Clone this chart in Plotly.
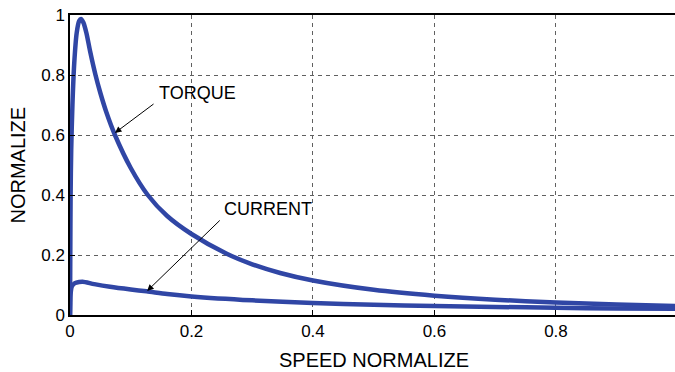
import plotly.graph_objects as go

# Data
torque_x = [0, 0.0005, 0.001, 0.002, 0.004, 0.007, 0.011, 0.015, 0.018, 0.022, 0.027,
            0.033, 0.042, 0.05, 0.06, 0.074, 0.1, 0.128, 0.16, 0.2, 0.258, 0.3, 0.346,
            0.4, 0.5, 0.6, 0.7, 0.8, 0.9, 0.996]
torque_y = [0, 0.2, 0.4, 0.55, 0.7, 0.84, 0.94, 0.98, 0.987, 0.975, 0.94,
            0.88, 0.8, 0.74, 0.675, 0.6, 0.49, 0.4, 0.33, 0.27, 0.204, 0.169, 0.14,
            0.115, 0.084, 0.0645, 0.051, 0.042, 0.035, 0.030]

current_x = [0, 0.0005, 0.001, 0.003, 0.008, 0.015, 0.021, 0.04, 0.066, 0.1, 0.126,
             0.16, 0.2, 0.3, 0.4, 0.5, 0.6, 0.7, 0.8, 0.9, 0.996]
current_y = [0, 0.04, 0.07, 0.095, 0.106, 0.11, 0.111, 0.103, 0.094, 0.085, 0.079,
             0.07, 0.062, 0.049, 0.04, 0.034, 0.03, 0.027, 0.024, 0.022, 0.021]

x_ticks = [0, 0.2, 0.4, 0.6, 0.8]
x_tick_labels = ["0", "0.2", "0.4", "0.6", "0.8"]
y_ticks = [0, 0.2, 0.4, 0.6, 0.8, 1]
y_tick_labels = ["0", "0.2", "0.4", "0.6", "0.8", "1"]

x_title = "SPEED NORMALIZE"
y_title = "NORMALIZE"
label_torque = "TORQUE"
label_current = "CURRENT"

BLUE = "rgb(48,70,165)"
FONT = "Liberation Sans, Arial, sans-serif"

fig = go.Figure()
fig.add_trace(go.Scatter(x=torque_x, y=torque_y, mode="lines",
                         line=dict(color=BLUE, width=4.5, shape="spline", smoothing=0.8),
                         showlegend=False))
fig.add_trace(go.Scatter(x=current_x, y=current_y, mode="lines",
                         line=dict(color=BLUE, width=4.5, shape="spline", smoothing=0.8),
                         showlegend=False))

axis_common = dict(showgrid=True, gridcolor="#606060", gridwidth=1, griddash="4px,4px",
                   zeroline=False, showline=True, linecolor="black", linewidth=1.5,
                   ticks="inside", ticklen=5, tickcolor="black",
                   tickfont=dict(family=FONT, size=17, color="black"))

fig.update_xaxes(range=[0, 0.996], tickvals=x_ticks, ticktext=x_tick_labels,
                 mirror=True, **axis_common)
fig.update_yaxes(range=[0, 1], tickvals=y_ticks, ticktext=y_tick_labels,
                 mirror=False, **axis_common)

# arrows
fig.add_annotation(x=0.074, y=0.607, ax=0.14, ay=0.707, xref="x", yref="y",
                   axref="x", ayref="y", text="", showarrow=True,
                   arrowhead=2, arrowsize=1.3, arrowwidth=1, arrowcolor="black")
fig.add_annotation(x=0.127, y=0.08, ax=0.249, ay=0.32, xref="x", yref="y",
                   axref="x", ayref="y", text="", showarrow=True,
                   arrowhead=2, arrowsize=1.3, arrowwidth=1, arrowcolor="black")
# labels
fig.add_annotation(x=(197.5 - 70) / 607.4, y=(315 - 92.5) / 300, xref="x", yref="y",
                   text=label_torque, showarrow=False,
                   font=dict(family=FONT, size=18, color="black"))
fig.add_annotation(x=(268 - 70) / 607.4, y=(315 - 208.5) / 300, xref="x", yref="y",
                   text=label_current, showarrow=False,
                   font=dict(family=FONT, size=18, color="black"))
# axis titles
fig.add_annotation(x=(374 - 70) / 605, y=0, xref="paper", yref="paper",
                   xanchor="center", yanchor="middle", yshift=-45,
                   text=x_title, showarrow=False,
                   font=dict(family=FONT, size=20, color="black"))
fig.add_annotation(x=0, y=0.5, xref="paper", yref="paper",
                   xanchor="center", yanchor="middle", xshift=-52.5,
                   text=y_title, showarrow=False, textangle=-90,
                   font=dict(family=FONT, size=20, color="black"))

fig.update_layout(width=675, height=372,
                  margin=dict(l=70, r=0, t=15, b=57),
                  paper_bgcolor="white", plot_bgcolor="white")
fig.write_html("out.html")
